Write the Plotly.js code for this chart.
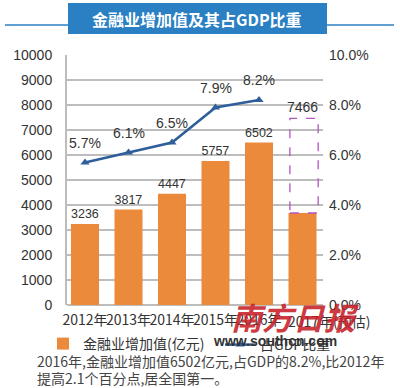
<!DOCTYPE html>
<html>
<head>
<meta charset="utf-8">
<script src="https://cdn.plot.ly/plotly-3.0.1.min.js"></script>
<style>html,body{margin:0;padding:0;background:#fff;}#chart{width:400px;height:388px;}</style>
</head>
<body>
<div id="chart"></div>
<script>
// ---- data ----
const categories = ['2012年', '2013年', '2014年', '2015年', '2016年', '2017年'];
const tickLabels = ['2012年', '2013年', '2014年', '2015年', '2016年', ''];
const estimateLabel = '2017年(预估)';
const financeValue = [3236, 3817, 4447, 5757, 6502, 3680];   // 亿元 (2017 solid part as drawn)
const valueLabels = ['3236', '3817', '4447', '5757', '6502', ''];
const estimate2017 = 7466;
const gdpShare = [5.7, 6.1, 6.5, 7.9, 8.2];                  // %
const shareCategories = categories.slice(0, 5);
const shareLabels = ['5.7%', '6.1%', '6.5%', '7.9%', '8.2%'];
const titleText = '金融业增加值及其占GDP比重';
const captionLines = ['2016年,金融业增加值6502亿元,占GDP的8.2%,比2012年', '提高2.1个百分点,居全国第一。'];

// ---- geometry helpers (pixel -> paper) ----
const W = 400, H = 388, L = 67, R = 77, T = 55, B = 83;
const pw = W - L - R, ph = H - T - B;
const px = x => (x - L) / pw;
const py = y => (H - B - y) / ph;

const FONT = 'Liberation Sans, Arial, Noto Sans CJK SC, sans-serif';
const CJK = 'Noto Sans CJK SC, sans-serif';
const orange = '#EC8A3C';
const blue = '#2F5E9B';

const traces = [
  {
    type: 'bar', x: categories, y: financeValue, name: '金融业增加值(亿元)',
    marker: {color: orange}, text: valueLabels, textposition: 'outside',
    textfont: {size: 14, color: '#333', family: FONT}, cliponaxis: false,
    hoverinfo: 'x+y', legend: 'legend'
  },
  {
    type: 'scatter', mode: 'lines+markers', x: shareCategories, y: gdpShare, yaxis: 'y2',
    name: '占GDP比重', line: {color: blue, width: 2.5},
    marker: {symbol: 'triangle-up', size: 8, color: blue}, legend: 'legend2'
  }
];

const annotations = shareCategories.map((c, i) => ({
  x: c, y: gdpShare[i], xref: 'x', yref: 'y2', text: shareLabels[i], showarrow: false,
  yshift: 20, font: {size: 14, color: '#333', family: FONT}
}));
annotations.push({
  x: categories[5], y: estimate2017, xref: 'x', yref: 'y', text: String(estimate2017),
  showarrow: false, yshift: 11, font: {size: 14, color: '#333', family: FONT}
});
// last category label (drawn left-aligned like the reference)
annotations.push({
  x: categories[5], y: py(321), xref: 'x', yref: 'paper', text: estimateLabel,
  xanchor: 'left', yanchor: 'middle', xshift: -17, showarrow: false,
  font: {size: 14, color: '#333', family: CJK}
});
captionLines.forEach((t, i) => annotations.push({
  x: px(35), y: py(361 + i * 17), xref: 'paper', yref: 'paper', xanchor: 'left', yanchor: 'middle',
  text: t, showarrow: false, font: {size: 14, color: '#444', family: CJK}
}));
annotations.push({
  x: px(197), y: py(19), xref: 'paper', yref: 'paper', text: '<b>' + titleText + '</b>',
  xanchor: 'center', yanchor: 'middle',
  showarrow: false, font: {size: 16, color: '#fff', family: CJK}
});
// watermark
annotations.push({
  x: px(295), y: py(316), xref: 'paper', yref: 'paper', text: '<b><i>南方日报</i></b>',
  xanchor: 'center', yanchor: 'middle',
  showarrow: false, font: {size: 31, color: 'rgba(200,30,40,0.9)', family: CJK}
});
annotations.push({
  x: px(275), y: py(341), xref: 'paper', yref: 'paper', text: '<b>www.southcn.com</b>',
  xanchor: 'center', yanchor: 'middle',
  showarrow: false, font: {size: 14, color: '#333', family: FONT}
});

const shapes = [
  {type: 'rect', xref: 'paper', yref: 'paper', x0: px(68), x1: px(327), y0: py(3), y1: py(34),
   fillcolor: '#2B80C3', line: {width: 0}, layer: 'below'},
  {type: 'line', xref: 'paper', yref: 'paper', x0: px(5), x1: px(68), y0: py(25), y1: py(25),
   line: {color: '#2B80C3', width: 1.5}},
  {type: 'line', xref: 'paper', yref: 'paper', x0: px(327), x1: px(394), y0: py(25), y1: py(25),
   line: {color: '#2B80C3', width: 1.5}},
  {type: 'rect', xref: 'x', yref: 'y', x0: 5 - 0.29, x1: 5 + 0.36,
   y0: financeValue[5], y1: estimate2017, line: {color: '#B455C0', width: 1.3, dash: 'dash'},
   fillcolor: 'rgba(0,0,0,0)'}
];

const legendCommon = {orientation: 'h', xanchor: 'left', yanchor: 'middle', bgcolor: 'rgba(0,0,0,0)',
  font: {size: 14, family: CJK, color: '#333'}, itemwidth: 30};

const layout = {
  width: W, height: H,
  margin: {l: L, r: R, t: T, b: B, pad: 0, autoexpand: false},
  paper_bgcolor: '#fff', plot_bgcolor: '#fff',
  font: {family: FONT, color: '#333', size: 14},
  bargap: 0.356,
  showlegend: true,
  legend: Object.assign({}, legendCommon, {x: px(43), y: py(344)}),
  legend2: Object.assign({}, legendCommon, {x: px(220), y: py(345)}),
  xaxis: {type: 'category', range: [-0.414, 5.471], showgrid: false, zeroline: false, showline: false,
          ticks: '', tickangle: 0, tickvals: categories, ticktext: tickLabels, ticklabelstandoff: 5,
          tickfont: {size: 14, family: CJK, color: '#333'}, automargin: false},
  yaxis: {range: [0, 10000], dtick: 1000, tickformat: 'd', showgrid: true, gridcolor: '#bdbdbd', gridwidth: 1.5,
          zeroline: true, zerolinecolor: '#bdbdbd', zerolinewidth: 1.5,
          showline: true, linecolor: '#bdbdbd', linewidth: 2, ticks: '', ticklabelstandoff: 10,
          tickfont: {size: 14, color: '#333'}, automargin: false},
  yaxis2: {range: [0, 10], dtick: 2, overlaying: 'y', side: 'right', showgrid: false, zeroline: false,
           tickformat: '.1f', ticksuffix: '%', ticks: '', ticklabelstandoff: 5,
           tickfont: {size: 14, color: '#333'}, automargin: false},
  annotations: annotations,
  shapes: shapes
};

Plotly.newPlot('chart', traces, layout, {displayModeBar: false, staticPlot: true});
</script>
</body>
</html>
